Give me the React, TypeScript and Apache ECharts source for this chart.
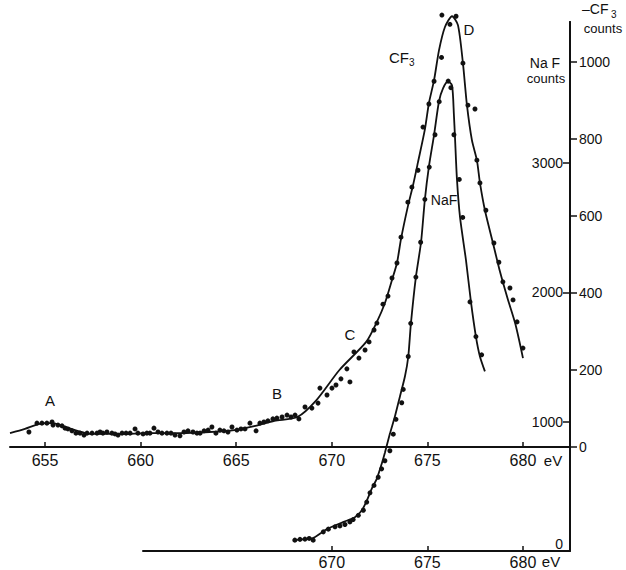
import React, { useEffect, useRef } from "react";
import * as echarts from "echarts";

// ---- data ----
// -CF3 curve (upper spectrum), energy in eV and counts
const cf3LineE = [653.17, 653.95, 654.5, 655.0, 655.4, 655.78, 656.2, 656.57, 657.0, 657.35, 658.9, 660.5, 662.1, 663.6, 664.9, 666.0, 667.0, 668.2, 669.2, 670.4, 671.8, 672.36, 672.78, 673.15, 673.41, 673.62, 673.98, 674.25, 674.51, 674.87, 675.08, 675.35, 675.61, 675.92, 676.29, 676.6, 676.86, 677.07, 677.33, 677.59, 677.75, 678.01, 678.43, 678.8, 679.2, 679.6, 680.0];
const cf3LineC = [36, 47, 57, 62, 62, 57, 50, 44, 38, 34, 34, 36, 36, 39, 44, 55, 68, 78, 122, 200, 273, 325, 374, 434, 478, 540, 625, 680, 740, 825, 893, 953, 1031, 1091, 1119, 1096, 997, 888, 797, 745, 686, 615, 530, 455, 385, 320, 231];

const cf3DotE = [654.16, 654.58, 654.84, 655.1, 655.37, 655.42, 655.68, 655.89, 656.05, 656.2, 656.41, 656.62, 656.83, 657.04, 657.2, 657.46, 657.72, 657.88, 658.03, 658.24, 658.5, 658.66, 658.82, 659.03, 659.24, 659.45, 659.71, 659.86, 660.13, 660.33, 660.49, 660.7, 660.91, 661.12, 661.38, 661.59, 661.8, 662.06, 662.27, 662.48, 662.74, 662.95, 663.11, 663.32, 663.53, 663.73, 663.94, 664.15, 664.36, 664.57, 664.78, 665.04, 665.25, 665.46, 665.72, 666.04, 666.24, 666.45, 666.66, 666.92, 667.13, 667.4, 667.66, 667.87, 668.08, 668.28, 668.6, 668.96, 669.28, 669.38, 669.75, 670.01, 670.22, 670.48, 670.79, 670.95, 671.16, 671.42, 671.74, 671.95, 672.21, 672.36, 672.68, 672.94, 673.15, 673.41, 673.62, 673.98, 674.19, 674.51, 674.77, 675.08, 675.35, 675.74, 675.76, 676.18, 676.5, 676.86, 677.12, 677.49, 677.59, 677.75, 678.06, 678.48, 678.74, 678.95, 679.32, 679.48, 679.69, 680.0];
const cf3DotC = [39, 62, 62, 62, 65, 57, 57, 55, 49, 47, 42, 36, 36, 31, 36, 36, 36, 39, 36, 39, 36, 34, 31, 36, 36, 36, 47, 36, 34, 36, 36, 49, 39, 36, 36, 36, 31, 29, 39, 42, 39, 36, 36, 42, 44, 52, 36, 44, 42, 39, 52, 44, 47, 47, 62, 42, 62, 65, 68, 73, 75, 78, 83, 78, 83, 73, 104, 101, 114, 153, 135, 153, 161, 177, 203, 169, 247, 231, 252, 273, 304, 322, 371, 392, 439, 478, 545, 636, 675, 719, 831, 891, 950, 1012, 1122, 1098, 1119, 997, 888, 878, 745, 686, 615, 530, 480, 429, 413, 382, 325, 257];

// NaF curve (lower spectrum)
const nafLineE = [667.97, 669.02, 669.4, 669.75, 670.59, 671.21, 671.58, 671.84, 672.1, 672.36, 672.63, 672.78, 673.04, 673.31, 673.57, 673.83, 674.0, 674.14, 674.4, 674.67, 674.87, 675.08, 675.35, 675.61, 675.82, 676.08, 676.29, 676.39, 676.44, 676.55, 676.71, 677.02, 677.28, 677.54, 677.75, 678.01];
const nafLineN = [84, 100, 135, 170, 223, 261, 315, 391, 484, 560, 683, 760, 906, 1044, 1197, 1351, 1500, 1758, 2118, 2387, 2717, 2970, 3216, 3477, 3577, 3630, 3600, 3369, 3216, 2870, 2579, 2249, 1926, 1658, 1504, 1389];

const nafDotE = [668.07, 668.34, 668.6, 668.82, 669.03, 669.56, 669.82, 670.17, 670.43, 670.69, 670.95, 671.12, 671.39, 671.65, 671.83, 672.0, 672.21, 672.43, 672.61, 672.78, 673.04, 673.22, 673.36, 673.66, 673.74, 674.0, 674.13, 674.4, 674.65, 674.87, 675.1, 675.4, 675.62, 676.09, 676.23, 676.39, 676.67, 676.85, 677.23, 677.54, 677.84];
const nafDotN = [84, 90, 92, 97, 84, 148, 169, 187, 194, 205, 225, 243, 276, 315, 378, 450, 507, 570, 635, 698, 775, 903, 1018, 1146, 1249, 1504, 1760, 2118, 2387, 2719, 2968, 3218, 3474, 3633, 3582, 3218, 2873, 2579, 1926, 1658, 1517];

// tick labels
const upperEnergyTicks = [655, 660, 665, 670, 675, 680];
const lowerEnergyTicks = [670, 675, 680];
const cf3CountTicks = [0, 200, 400, 600, 800, 1000];
const nafCountTicks = [0, 1000, 2000, 3000];

const FONT = "Liberation Sans";
const INK = "#111";

function pairs(xs: number[], ys: number[]) {
  return xs.map((x, i) => [x, ys[i]]);
}

export default function App() {
  const ref = useRef<HTMLDivElement>(null);

  useEffect(() => {
    const chart = echarts.init(ref.current!, null, { renderer: "svg" });
    const txt = (text: string, x: number, y: number, size: number, align = "center") => ({
      type: "text",
      x,
      y,
      style: {
        text,
        fill: INK,
        font: `${size}px ${FONT}`,
        textAlign: align,
        align,
        textVerticalAlign: "middle",
        verticalAlign: "middle",
      },
    });
    const option: any = {
      animation: false,
      backgroundColor: "#fff",
      grid: [
        { left: 10, right: 56, top: 22, bottom: 123 },
        { left: 143, right: 56, top: 22, bottom: 15 },
      ],
      xAxis: [
        {
          type: "value",
          gridIndex: 0,
          min: 653.17,
          max: 682.46,
          axisLine: { show: true, lineStyle: { color: INK, width: 2 } },
          axisTick: { show: true, inside: true, length: 5, customValues: upperEnergyTicks, lineStyle: { color: INK, width: 1.5 } },
          axisLabel: { customValues: upperEnergyTicks, margin: 5, fontSize: 16, color: INK, fontFamily: FONT },
          splitLine: { show: false },
        },
        {
          type: "value",
          gridIndex: 1,
          min: 660.13,
          max: 682.46,
          axisLine: { show: true, lineStyle: { color: INK, width: 2 } },
          axisTick: { show: true, inside: true, length: 5, customValues: lowerEnergyTicks, lineStyle: { color: INK, width: 1.5 } },
          axisLabel: { customValues: lowerEnergyTicks, margin: 3, fontSize: 16, color: INK, fontFamily: FONT },
          splitLine: { show: false },
        },
      ],
      yAxis: [
        {
          type: "value",
          gridIndex: 0,
          position: "right",
          min: 0,
          max: 1104,
          axisLine: { show: true, lineStyle: { color: INK, width: 2 } },
          axisTick: { show: true, inside: false, length: 7, customValues: cf3CountTicks, lineStyle: { color: INK, width: 1.5 } },
          axisLabel: {
            customValues: cf3CountTicks,
            margin: 9,
            fontSize: 14,
            color: INK,
            fontFamily: FONT,
            formatter: (v: number) => String(v),
          },
          splitLine: { show: false },
        },
        {
          type: "value",
          gridIndex: 1,
          position: "right",
          min: 0,
          max: 4090,
          axisLine: { show: true, lineStyle: { color: INK, width: 2 } },
          axisTick: { show: true, inside: true, length: 7, customValues: nafCountTicks, lineStyle: { color: INK, width: 1.5 } },
          axisLabel: {
            inside: true,
            customValues: nafCountTicks,
            margin: 7,
            fontSize: 14,
            color: INK,
            fontFamily: FONT,
            formatter: (v: number) => (v === 0 ? "{z|0}" : String(v)),
            rich: { z: { fontSize: 14, fontFamily: FONT, color: INK, padding: [0, 0, 14, 0] } },
          },
          splitLine: { show: false },
        },
      ],
      series: [
        {
          type: "line",
          xAxisIndex: 0,
          yAxisIndex: 0,
          data: pairs(cf3LineE, cf3LineC),
          showSymbol: false,
          smooth: 0.25,
          clip: false,
          lineStyle: { color: INK, width: 1.8 },
        },
        {
          type: "scatter",
          xAxisIndex: 0,
          yAxisIndex: 0,
          data: pairs(cf3DotE, cf3DotC),
          symbolSize: 5,
          clip: false,
          itemStyle: { color: INK, opacity: 1 },
        },
        {
          type: "line",
          xAxisIndex: 1,
          yAxisIndex: 1,
          data: pairs(nafLineE, nafLineN),
          showSymbol: false,
          smooth: 0.25,
          clip: false,
          lineStyle: { color: INK, width: 1.8 },
        },
        {
          type: "scatter",
          xAxisIndex: 1,
          yAxisIndex: 1,
          data: pairs(nafDotE, nafDotN),
          symbolSize: 5,
          clip: false,
          itemStyle: { color: INK, opacity: 1 },
        },
      ],
      graphic: [
        txt("A", 50, 400, 15),
        txt("B", 277, 393, 15),
        txt("C", 350, 334, 15),
        txt("D", 469, 29, 15),
        txt("CF", 389, 57, 15, "left"),
        txt("3", 409, 62, 10, "left"),
        txt("NaF", 444, 200, 14),
        txt("Na F", 545, 63, 14),
        txt("counts", 546, 78, 13),
        txt("–CF", 582, 9, 14, "left"),
        txt("3", 611, 14, 10, "left"),
        txt("counts", 603, 28, 13),
        txt("eV", 553, 460, 15),
        txt("eV", 551, 561, 15),
      ],
    };
    chart.setOption(option);
    return () => chart.dispose();
  }, []);

  return (
    <div
      ref={ref}
      style={{ position: "fixed", left: 0, top: 0, width: 626, height: 570, background: "#fff" }}
    />
  );
}
